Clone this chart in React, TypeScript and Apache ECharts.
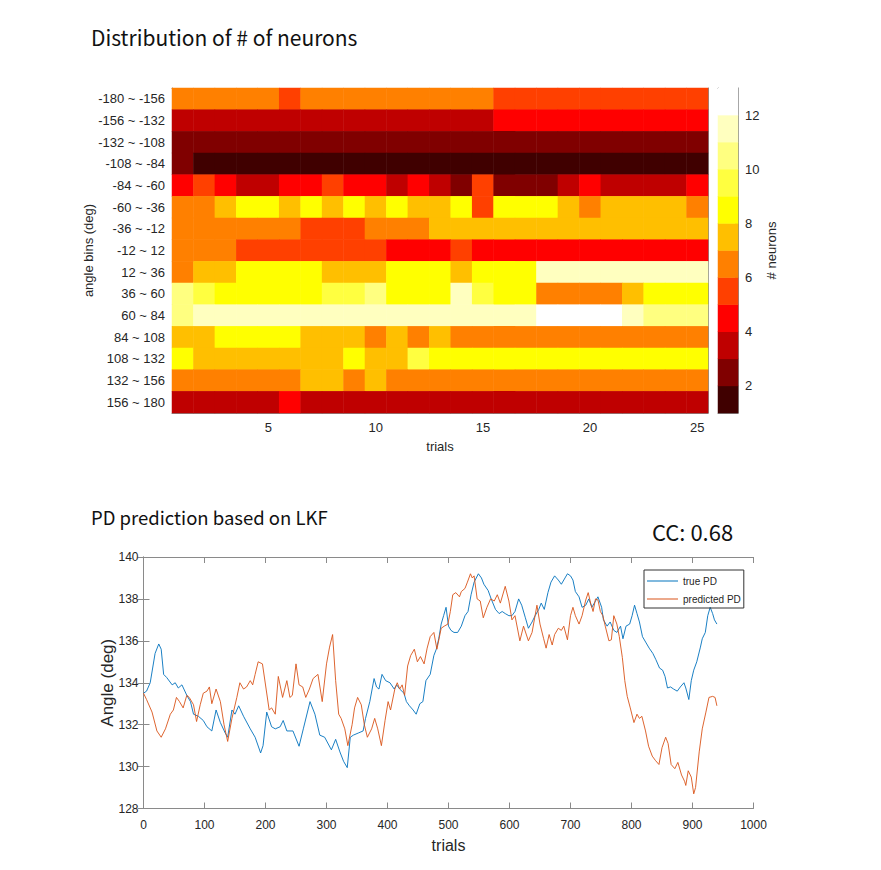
import React, { useEffect, useRef } from "react";
import * as echarts from "echarts";

// ---------- Heatmap data ----------
const angleBins = [
  "-180 ~ -156", "-156 ~ -132", "-132 ~ -108", "-108 ~ -84", "-84 ~ -60",
  "-60 ~ -36", "-36 ~ -12", "-12 ~ 12", "12 ~ 36", "36 ~ 60",
  "60 ~ 84", "84 ~ 108", "108 ~ 132", "132 ~ 156", "156 ~ 180",
];
const trialNumbers = [
  "1", "2", "3", "4", "5", "6", "7", "8", "9", "10", "11", "12", "13",
  "14", "15", "16", "17", "18", "19", "20", "21", "22", "23", "24", "25",
];
const trialTicks = [5, 10, 15, 20, 25];

// # neurons per angle bin (rows) and trial (columns)
const neuronCounts: number[][] = [
  [6, 6, 6, 6, 6, 5, 6, 6, 6, 6, 6, 6, 6, 6, 6, 5, 5, 5, 5, 5, 5, 5, 5, 5, 5],
  [3, 3, 3, 3, 3, 3, 3, 3, 3, 3, 3, 3, 3, 3, 3, 4, 4, 4, 4, 4, 4, 4, 4, 4, 4],
  [2, 2, 2, 2, 2, 2, 2, 2, 2, 2, 2, 2, 2, 2, 2, 2, 2, 2, 2, 2, 2, 2, 2, 2, 2],
  [2, 1, 1, 1, 1, 1, 1, 1, 1, 1, 1, 1, 1, 1, 1, 1, 1, 1, 1, 1, 1, 1, 1, 1, 1],
  [4, 5, 4, 3, 3, 4, 4, 5, 4, 4, 3, 4, 3, 2, 5, 2, 2, 2, 3, 4, 3, 3, 3, 3, 4],
  [6, 6, 7, 8, 8, 7, 8, 7, 8, 7, 8, 7, 7, 8, 5, 8, 8, 8, 7, 6, 7, 7, 7, 7, 6],
  [6, 6, 6, 6, 6, 6, 5, 5, 5, 6, 6, 6, 7, 7, 7, 7, 7, 7, 7, 7, 7, 7, 7, 7, 7],
  [6, 6, 6, 5, 5, 5, 5, 5, 5, 5, 4, 4, 4, 5, 4, 4, 4, 4, 4, 4, 4, 4, 4, 4, 4],
  [6, 7, 7, 8, 8, 8, 8, 7, 7, 7, 8, 8, 8, 7, 8, 8, 8, 11, 11, 11, 11, 11, 11, 11, 11],
  [10, 9, 8, 8, 8, 8, 8, 9, 9, 10, 8, 8, 8, 11, 9, 8, 8, 6, 6, 6, 6, 7, 8, 8, 8],
  [10, 11, 11, 11, 11, 11, 11, 11, 11, 11, 11, 11, 11, 11, 11, 11, 11, 12, 12, 12, 12, 11, 10, 10, 10],
  [7, 7, 8, 8, 8, 8, 7, 7, 7, 6, 7, 6, 7, 6, 6, 6, 6, 6, 6, 6, 6, 6, 6, 6, 6],
  [8, 7, 7, 7, 7, 7, 7, 7, 8, 7, 7, 9, 8, 8, 8, 8, 8, 8, 8, 8, 8, 8, 8, 8, 8],
  [6, 6, 6, 6, 6, 6, 7, 7, 6, 7, 6, 6, 6, 6, 6, 6, 6, 6, 6, 6, 6, 6, 6, 6, 6],
  [3, 3, 3, 3, 3, 4, 3, 3, 3, 3, 3, 3, 3, 3, 3, 3, 3, 3, 3, 3, 3, 3, 3, 3, 3],
];

// colorbar: 12 levels of MATLAB "hot"
const colorLevels = [1, 2, 3, 4, 5, 6, 7, 8, 9, 10, 11, 12];
const hotColors = [
  "#400000", "#800000", "#bf0000", "#ff0000", "#ff4000", "#ff8000",
  "#ffbf00", "#ffff00", "#ffff40", "#ffff80", "#ffffbf", "#ffffff",
];
const colorbarTicks = [2, 4, 6, 8, 10, 12];

// ---------- Line chart data: [trial, angle] ----------
const truePD: [number, number][] = [
  [0, 133.5], [5, 133.6], [11, 134.0], [19, 135.4], [25, 135.85], [29, 135.6], [33, 134.4],
  [38, 134.25], [47, 133.9], [52, 134.0], [57, 133.75], [63, 133.9], [71, 133.4], [77, 133.1],
  [82, 132.5], [90, 132.4], [98, 132.2], [104, 131.9], [112, 131.7], [119, 132.7], [126, 132.1],
  [134, 131.6], [138, 131.4], [145, 132.7], [150, 132.5], [156, 132.9], [164, 132.4], [175, 131.8],
  [183, 131.4], [192, 130.65], [196, 131.0], [202, 132.6], [210, 131.9], [216, 131.8], [224, 131.9],
  [229, 132.2], [235, 131.7], [245, 131.7], [255, 130.97], [262, 131.8], [273, 133.1], [281, 132.5],
  [289, 131.5], [297, 131.4], [308, 130.8], [315, 131.3], [322, 130.7], [328, 130.25], [334, 129.95],
  [339, 131.4], [344, 131.5], [352, 131.6], [360, 131.7], [364, 132.3], [371, 133.1], [378, 134.2],
  [382, 133.8], [386, 133.7], [391, 134.4], [397, 134.1], [404, 134.0], [411, 133.7], [415, 133.9],
  [420, 133.7], [427, 133.5], [431, 133.1], [436, 132.9], [442, 132.7], [447, 132.5], [453, 133.0],
  [458, 133.1], [463, 134.1], [470, 134.4], [476, 135.3], [480, 135.6], [484, 136.1], [488, 136.8],
  [492, 137.2], [496, 137.6], [500, 136.7], [504, 136.5], [509, 136.4], [515, 136.4], [521, 136.7],
  [527, 137.2], [532, 137.4], [537, 138.2], [542, 138.8], [549, 139.2], [554, 139.0], [558, 138.7],
  [565, 138.4], [570, 138.0], [577, 137.5], [583, 137.3], [588, 137.4], [593, 137.3], [599, 137.2],
  [604, 137.2], [609, 137.4], [615, 138.0], [620, 137.7], [626, 137.1], [631, 136.6], [637, 136.9],
  [642, 137.2], [648, 137.5], [652, 137.8], [657, 137.5], [663, 138.3], [668, 138.8], [674, 139.1],
  [680, 138.9], [685, 138.7], [691, 139.0], [695, 139.2], [700, 139.1], [704, 138.9], [708, 138.35],
  [714, 138.1], [719, 137.6], [725, 137.7], [730, 138.0], [735, 137.6], [741, 137.9], [745, 138.1],
  [751, 137.6], [754, 137.0], [760, 136.7], [765, 136.9], [771, 136.5], [776, 136.4], [782, 136.7],
  [786, 136.1], [791, 136.7], [797, 136.8], [801, 137.2], [805, 137.7], [809, 137.3], [813, 136.9],
  [818, 136.2], [824, 135.9], [829, 135.65], [835, 135.4], [840, 135.1], [846, 134.7], [851, 134.6],
  [855, 134.3], [859, 133.75], [864, 133.8], [869, 133.7], [875, 133.6], [880, 133.8], [886, 134.0],
  [889, 133.75], [894, 133.2], [898, 134.1], [902, 134.6], [907, 135.0], [913, 135.7], [916, 136.1],
  [921, 136.4], [925, 137.2], [929, 137.6], [933, 137.3], [936, 137.0], [940, 136.8],
];

const predictedPD: [number, number][] = [
  [0, 133.5], [5, 133.2], [14, 132.6], [22, 131.7], [29, 131.4], [36, 131.8], [44, 132.5],
  [49, 132.7], [54, 133.3], [59, 133.1], [65, 132.8], [71, 133.4], [75, 133.3], [82, 132.95],
  [87, 132.15], [93, 132.95], [98, 133.5], [104, 133.6], [108, 133.8], [112, 133.0], [119, 133.7],
  [126, 133.1], [132, 132.0], [138, 131.2], [145, 132.3], [153, 133.3], [158, 134.0], [164, 133.7],
  [169, 133.8], [175, 134.1], [179, 133.9], [183, 134.4], [188, 135.0], [195, 134.9], [201, 133.7],
  [206, 132.7], [210, 132.8], [216, 132.5], [221, 134.3], [228, 133.3], [235, 134.1], [240, 133.3],
  [244, 133.4], [250, 134.9], [255, 133.9], [261, 133.8], [266, 133.3], [272, 133.7], [278, 134.2],
  [286, 134.4], [293, 133.1], [300, 134.9], [305, 135.7], [310, 136.3], [315, 134.1], [320, 132.5],
  [324, 132.3], [330, 131.8], [335, 131.0], [342, 132.0], [346, 132.8], [351, 133.3], [357, 132.95],
  [362, 132.0], [367, 131.4], [374, 131.8], [379, 132.3], [384, 131.8], [390, 131.0], [396, 132.2],
  [401, 133.1], [405, 132.7], [412, 133.7], [416, 134.0], [420, 133.7], [424, 133.9], [428, 133.4],
  [433, 134.8], [438, 135.3], [444, 135.6], [449, 135.0], [454, 135.25], [460, 134.9], [465, 135.65],
  [470, 136.2], [476, 136.4], [481, 135.6], [488, 136.6], [493, 136.7], [499, 136.8], [503, 137.4],
  [507, 138.2], [512, 138.3], [518, 138.1], [521, 138.35], [527, 138.5], [531, 138.8], [536, 139.2],
  [539, 139.0], [542, 139.1], [547, 138.0], [552, 137.9], [557, 137.1], [563, 137.6], [569, 138.0],
  [575, 137.9], [580, 138.2], [585, 137.8], [593, 138.6], [599, 137.9], [604, 137.0], [609, 137.2],
  [617, 136.0], [623, 136.7], [631, 136.0], [637, 136.4], [645, 137.7], [650, 136.8], [656, 136.1],
  [660, 135.65], [665, 136.3], [670, 135.8], [674, 136.3], [680, 136.6], [685, 136.5], [689, 136.7],
  [695, 136.05], [700, 137.2], [704, 137.6], [708, 137.2], [714, 136.8], [719, 137.2], [725, 137.95],
  [729, 138.3], [733, 137.8], [737, 137.4], [741, 138.0], [745, 137.95], [749, 137.4], [753, 137.2],
  [757, 136.7], [763, 136.0], [767, 136.05], [771, 137.2], [776, 136.8], [780, 136.2], [785, 135.2],
  [789, 134.1], [793, 133.35], [798, 132.8], [804, 132.1], [809, 132.5], [813, 132.3], [817, 132.4],
  [823, 131.7], [828, 130.97], [834, 130.5], [839, 130.3], [845, 130.1], [850, 130.9], [856, 131.4],
  [860, 131.1], [865, 130.1], [871, 129.9], [876, 130.2], [882, 129.6], [887, 129.3], [889, 129.1],
  [893, 129.8], [898, 129.5], [902, 128.7], [905, 129.0], [911, 130.7], [916, 131.8], [922, 132.6],
  [927, 133.3], [933, 133.35], [937, 133.3], [940, 132.9],
];

const FONT = "'Liberation Sans', Arial, sans-serif";
const TITLE_FONT = "'Noto Sans CJK KR', 'Noto Sans', sans-serif";
const AXIS = "#8a8a8a";
const LABEL = "#262626";

export default function App() {
  const ref = useRef<HTMLDivElement>(null);

  useEffect(() => {
    if (!ref.current) return;
    const chart = echarts.init(ref.current, undefined, { renderer: "svg" });

    const heatData: number[][] = [];
    neuronCounts.forEach((row, r) => row.forEach((v, c) => heatData.push([c, r, v])));
    const colorbarData = colorLevels.map((lv, i) => [0, i, lv]);

    const isTrialTick = (index: number) => trialTicks.includes(index + 1);
    const axisLine = { show: true, lineStyle: { color: AXIS, width: 1 } };
    const labelStyle = { color: LABEL, fontFamily: FONT, fontSize: 13 };

    const option: any = {
      animation: false,
      backgroundColor: "#ffffff",
      title: [
        {
          text: "Distribution of # of neurons",
          left: 86,
          top: 21,
          padding: 5,
          textStyle: { fontFamily: TITLE_FONT, fontSize: 21, fontWeight: "normal", color: "#111" },
        },
        {
          text: "PD prediction based on LKF",
          left: 86,
          top: 503,
          padding: 5,
          textStyle: { fontFamily: TITLE_FONT, fontSize: 18.5, fontWeight: "normal", color: "#111" },
        },
        {
          text: "CC: 0.68",
          left: 647,
          top: 515,
          padding: 5,
          textStyle: { fontFamily: TITLE_FONT, fontSize: 22, fontWeight: "normal", color: "#111" },
        },
      ],
      legend: {
        data: ["true PD", "predicted PD"],
        orient: "vertical",
        left: 644,
        top: 570,
        icon: "rect",
        itemWidth: 31,
        itemHeight: 1,
        itemGap: 6,
        padding: [5, 3, 3, 3],
        borderColor: "#333",
        borderWidth: 1,
        textStyle: { fontFamily: FONT, fontSize: 10, lineHeight: 12, color: LABEL },
      },
      visualMap: {
        type: "piecewise",
        show: false,
        dimension: 2,
        seriesIndex: [0, 1],
        pieces: colorLevels.map((lv, i) => ({ value: lv, color: hotColors[i] })),
      },
      grid: [
        { left: 172, top: 88, width: 536, height: 325 },
        { left: 718, top: 88, width: 20, height: 325 },
        { left: 143.5, top: 557, width: 610, height: 251.5 },
      ],
      xAxis: [
        {
          type: "category",
          gridIndex: 0,
          data: trialNumbers,
          position: "bottom",
          axisLine,
          axisTick: { show: true, inside: true, length: 4, alignWithLabel: true, interval: isTrialTick, lineStyle: { color: AXIS } },
          axisLabel: { ...labelStyle, interval: isTrialTick, margin: 8 },
          splitLine: { show: false },
          name: "trials",
          nameLocation: "middle",
          nameGap: 27,
          nameMoveOverlap: false,
          nameTextStyle: labelStyle,
        },
        {
          type: "category",
          gridIndex: 0,
          data: trialNumbers,
          position: "top",
          axisLine,
          axisTick: { show: true, inside: true, length: 4, alignWithLabel: true, interval: isTrialTick, lineStyle: { color: AXIS } },
          axisLabel: { show: false },
          splitLine: { show: false },
        },
        {
          type: "category",
          gridIndex: 1,
          data: ["cb"],
          position: "bottom",
          axisLine,
          axisTick: { show: false },
          axisLabel: { show: false },
        },
        {
          type: "category",
          gridIndex: 1,
          data: ["cb"],
          position: "top",
          axisLine,
          axisTick: { show: false },
          axisLabel: { show: false },
        },
        {
          type: "value",
          gridIndex: 2,
          min: 0,
          max: 1000,
          interval: 100,
          position: "bottom",
          axisLine,
          axisTick: { show: true, inside: true, length: 6, lineStyle: { color: AXIS } },
          axisLabel: { ...labelStyle, fontSize: 12, margin: 10, formatter: (v: number) => String(v) },
          splitLine: { show: false },
          name: "trials",
          nameLocation: "middle",
          nameGap: 29,
          nameMoveOverlap: false,
          nameTextStyle: { ...labelStyle, fontSize: 16 },
        },
        {
          type: "value",
          gridIndex: 2,
          min: 0,
          max: 1000,
          interval: 100,
          position: "top",
          axisLine,
          axisTick: { show: true, inside: true, length: 6, lineStyle: { color: AXIS } },
          axisLabel: { show: false },
          splitLine: { show: false },
        },
      ],
      yAxis: [
        {
          type: "category",
          gridIndex: 0,
          data: angleBins,
          inverse: true,
          position: "left",
          axisLine,
          axisTick: { show: true, inside: true, length: 3, alignWithLabel: true, lineStyle: { color: AXIS } },
          axisLabel: { ...labelStyle, margin: 7 },
          splitLine: { show: false },
          name: "angle bins (deg)",
          nameLocation: "middle",
          nameGap: 77,
          nameMoveOverlap: false,
          nameTextStyle: labelStyle,
        },
        {
          type: "category",
          gridIndex: 0,
          data: angleBins,
          inverse: true,
          position: "right",
          axisLine,
          axisTick: { show: true, inside: true, length: 3, alignWithLabel: true, lineStyle: { color: AXIS } },
          axisLabel: { show: false },
          splitLine: { show: false },
        },
        {
          type: "category",
          gridIndex: 1,
          data: colorLevels.map(String),
          position: "left",
          axisLine,
          axisTick: { show: false },
          axisLabel: { show: false },
        },
        {
          type: "value",
          gridIndex: 1,
          min: 1,
          max: 13,
          position: "right",
          axisLine,
          axisTick: { show: true, inside: true, length: 3, customValues: colorbarTicks, lineStyle: { color: AXIS } },
          axisLabel: { ...labelStyle, margin: 7, customValues: colorbarTicks },
          splitLine: { show: false },
          name: "# neurons",
          nameLocation: "middle",
          nameGap: 27,
          nameRotate: 90,
          nameMoveOverlap: false,
          nameTextStyle: labelStyle,
        },
        {
          type: "value",
          gridIndex: 2,
          min: 128,
          max: 140,
          interval: 2,
          position: "left",
          axisLine,
          axisTick: { show: true, inside: true, length: 6, lineStyle: { color: AXIS } },
          axisLabel: { ...labelStyle, fontSize: 12, margin: 5 },
          splitLine: { show: false },
          name: "Angle (deg)",
          nameLocation: "middle",
          nameGap: 28,
          nameMoveOverlap: false,
          nameTextStyle: { ...labelStyle, fontSize: 17 },
        },
        {
          type: "value",
          gridIndex: 2,
          min: 128,
          max: 140,
          interval: 2,
          position: "right",
          axisLine,
          axisTick: { show: true, inside: true, length: 6, lineStyle: { color: AXIS } },
          axisLabel: { show: false },
          splitLine: { show: false },
        },
      ],
      series: [
        {
          type: "heatmap",
          xAxisIndex: 0,
          yAxisIndex: 0,
          data: heatData,
          itemStyle: { borderWidth: 0 },
        },
        {
          type: "heatmap",
          xAxisIndex: 2,
          yAxisIndex: 2,
          data: colorbarData,
          itemStyle: { borderWidth: 0 },
        },
        {
          type: "line",
          name: "true PD",
          xAxisIndex: 4,
          yAxisIndex: 4,
          data: truePD,
          symbol: "none",
          color: "#0072BD",
          lineStyle: { width: 0.9, color: "#0072BD" },
        },
        {
          type: "line",
          name: "predicted PD",
          xAxisIndex: 4,
          yAxisIndex: 4,
          data: predictedPD,
          symbol: "none",
          color: "#D95319",
          lineStyle: { width: 0.9, color: "#D95319" },
        },
      ],
    };

    chart.setOption(option);
    return () => chart.dispose();
  }, []);

  return (
    <div
      ref={ref}
      style={{ position: "fixed", left: 0, top: 0, width: 881, height: 870, background: "#fff" }}
    />
  );
}
